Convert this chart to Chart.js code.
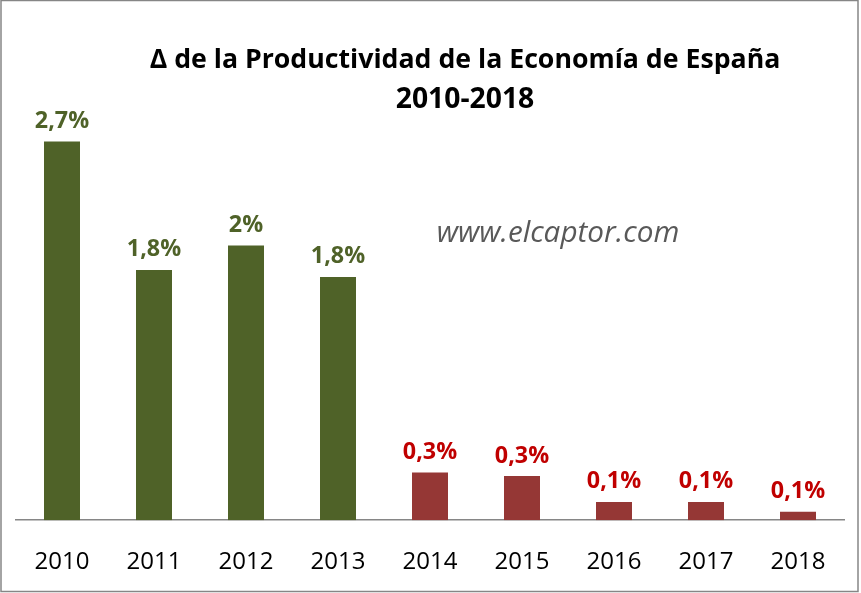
<!DOCTYPE html>
<html><head><meta charset="utf-8">
<style>html,body{margin:0;padding:0;background:#fff}#w{position:relative;width:861px;height:593px}canvas{display:block}</style>
<script src="https://cdn.jsdelivr.net/npm/chart.js@4"></script></head>
<body><div id="w"><canvas id="c" width="861" height="593"></canvas></div>
<script>
const categories=['2010','2011','2012','2013','2014','2015','2016','2017','2018'];
const values=[2.7,1.785,1.96,1.735,0.34,0.315,0.13,0.13,0.06];
const valueLabels=['2,7%','1,8%','2%','1,8%','0,3%','0,3%','0,1%','0,1%','0,1%'];
const barColors=['#4f6228','#4f6228','#4f6228','#4f6228','#953735','#953735','#953735','#953735','#953735'];
const labelColors=['#4f6228','#4f6228','#4f6228','#4f6228','#c00000','#c00000','#c00000','#c00000','#c00000'];
const titleLines=['Δ de la Productividad de la Economía de España','2010-2018'];
const watermark='www.elcaptor.com';
const FONT='"Open Sans","Noto Sans",sans-serif';
const decor={id:'decor',
 afterDatasetsDraw(ch){const {ctx,scales:{x,y}}=ch;ctx.save();
  ctx.textAlign='center';ctx.textBaseline='alphabetic';
  ctx.font='700 23.3px '+FONT;
  values.forEach((v,i)=>{ctx.fillStyle=labelColors[i];ctx.fillText(valueLabels[i],x.getPixelForValue(i),y.getPixelForValue(v)-13.5);});
  ctx.restore();},
 afterDraw(ch){const {ctx}=ch;ctx.save();
  ctx.strokeStyle='#868686';ctx.lineWidth=1.5;ctx.strokeRect(1,0.5,857,591);
  ctx.textAlign='center';ctx.fillStyle='#000';ctx.font='700 26.7px '+FONT;
  ctx.fillText(titleLines[0],465,68);ctx.font='700 28.3px '+FONT;ctx.fillText(titleLines[1],465,108);
  ctx.fillStyle='#595959';ctx.font='italic 29.7px '+FONT;ctx.fillText(watermark,558,242);
  ctx.restore();}};
new Chart(document.getElementById('c'),{type:'bar',
 data:{labels:categories,datasets:[{data:values,backgroundColor:barColors,categoryPercentage:1,barPercentage:36/92}]},
 options:{responsive:false,animation:false,
  layout:{padding:{left:16,right:17,top:0,bottom:-12}},
  plugins:{legend:{display:false},title:{display:false},tooltip:{enabled:false}},
  scales:{
   x:{grid:{display:false,drawTicks:false},border:{color:'#868686',width:1.5},ticks:{color:'#000',font:{family:FONT,size:24},padding:28,maxRotation:0}},
   y:{display:false,min:0,max:3.71}}},
 plugins:[decor]});
</script></body></html>
